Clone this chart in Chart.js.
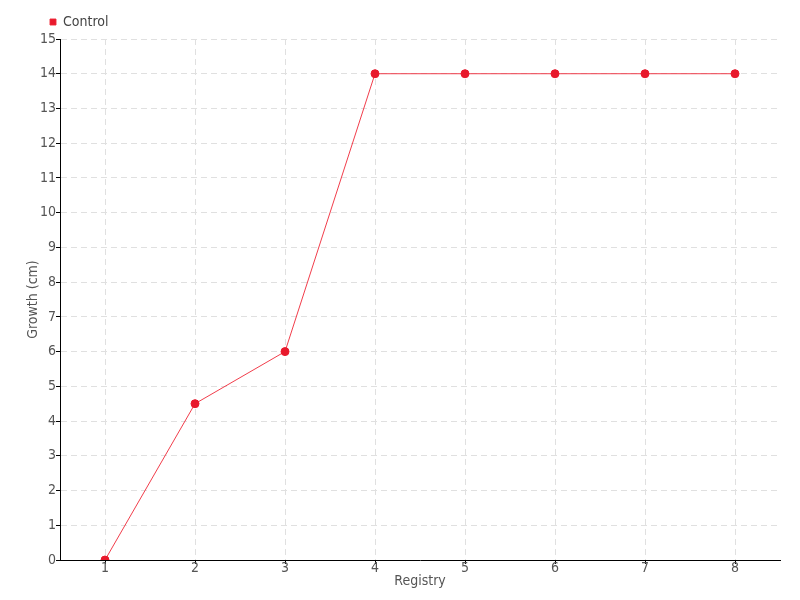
<!DOCTYPE html>
<html>
<head>
<meta charset="utf-8">
<script src="https://cdn.jsdelivr.net/npm/chart.js@4.4.0/dist/chart.umd.min.js"></script>
<style>
  html, body { margin: 0; padding: 0; background: #fff; }
  #wrap { width: 800px; height: 600px; }
</style>
</head>
<body>
<div id="wrap"><canvas id="chart" width="800" height="600"></canvas></div>
<script>
let registry = ['1', '2', '3', '4', '5', '6', '7', '8'];
let control = [0, 4.5, 6, 14, 14, 14, 14, 14];
let series_name = 'Control';
let x_title = 'Registry';
let y_title = 'Growth (cm)';

let red = '#e8192c';
let font_family = '"Liberation Sans Narrow", "DejaVu Sans Condensed", sans-serif';

Chart.defaults.font.family = font_family;
Chart.defaults.color = '#555';

function buildLineGraph(ctx, labels, datasets) {
  return new Chart(ctx, {
    type: 'line',
    data: {
      labels: labels,
      datasets: datasets
    },
    options: {
      responsive: false,
      animation: false,
      layout: { padding: { left: 26, right: 20, top: -9, bottom: 12 } },
      plugins: {
        legend: {
          align: 'start',
          maxHeight: 52,
          labels: {
            boxWidth: 6,
            boxHeight: 6,
            padding: 24,
            color: '#444',
            font: { size: 14 }
          }
        },
        tooltip: { enabled: false }
      },
      scales: {
        x: {
          offset: true,
          title: { display: true, text: x_title, color: '#555', font: { size: 14, lineHeight: 1 }, padding: { top: 2, bottom: 0 } },
          grid: {
            offset: false,
            color: '#e0e0e0',
            tickColor: '#000',
            tickLength: 4
          },
          border: { color: '#000', width: 1, dash: [6, 4] },
          ticks: { color: '#555', font: { size: 14, lineHeight: 1 }, padding: -3 }
        },
        y: {
          min: 0,
          max: 15,
          title: { display: true, text: y_title, color: '#555', font: { size: 14, lineHeight: 1 }, padding: 0 },
          grid: {
            color: '#e0e0e0',
            tickColor: '#000',
            tickLength: 4
          },
          border: { color: '#000', width: 1, dash: [6, 4] },
          ticks: { stepSize: 1, color: '#555', font: { size: 14 }, padding: 0 }
        }
      }
    }
  });
}

let datasets = [{
  label: series_name,
  data: control,
  borderColor: 'rgba(240, 40, 55, 0.9)',
  backgroundColor: red,
  pointBackgroundColor: red,
  pointBorderColor: red,
  pointRadius: 4,
  borderWidth: 1,
  tension: 0
}];

var ctx = document.getElementById('chart').getContext('2d');
buildLineGraph(ctx, registry, datasets);
</script>
</body>
</html>
